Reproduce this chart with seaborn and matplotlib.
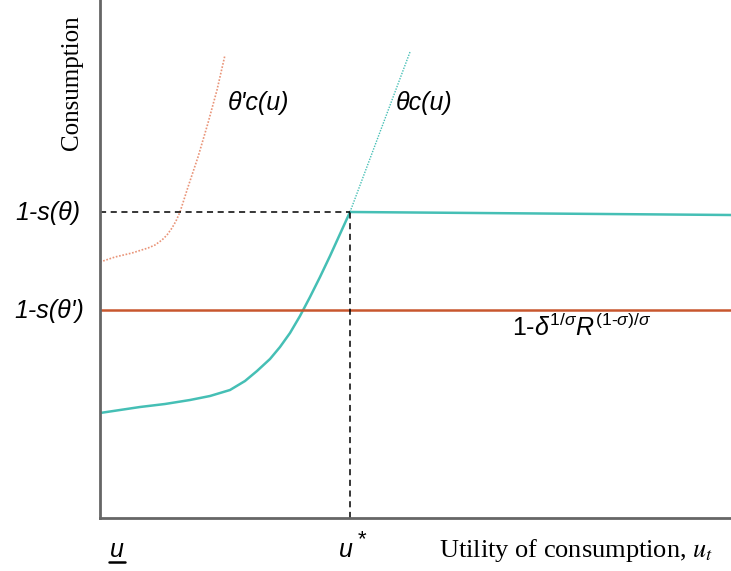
import numpy as np
import pandas as pd
import seaborn as sns
import matplotlib
matplotlib.use("Agg")
import matplotlib.pyplot as plt

sns.set_theme(style="white")
plt.rcParams['font.family'] = ['Liberation Sans', 'DejaVu Sans']
plt.rcParams['text.color'] = 'black'
plt.rcParams['mathtext.fontset'] = 'custom'
plt.rcParams['mathtext.rm'] = 'Liberation Sans'
plt.rcParams['mathtext.it'] = 'Liberation Sans:italic'
plt.rcParams['mathtext.bf'] = 'Liberation Sans:bold'

# ---- data (abstract units) ----
# theta c(u) curve (solid part up to u*)
teal_x = [0, 20, 40, 65, 90, 110, 130, 145, 157, 170, 180, 190, 200, 210, 220, 230, 240, 250]
teal_y = [105, 108, 111, 114, 118, 122, 128, 137, 147, 159, 171, 185, 202, 221, 241, 262, 284, 306]
# theta c(u) dotted continuation
teal_ext_x = [250, 265, 280, 295, 310]
teal_ext_y = [306, 346, 386, 426, 466]
# flat part after u*
flat_x = [250, 631]
flat_y = [306, 303]
# theta' c(u) dotted curve
orange_x = [0, 15, 32, 48, 55, 62, 67, 72, 76, 80, 88, 98, 108, 117, 125]
orange_y = [256, 261, 265, 270, 273, 278, 283, 290, 297, 306, 331, 361, 395, 428, 463]
# 1 - delta^(1/sigma) R^((1-sigma)/sigma)
hline_y = 208
ustar = 250
s_theta = 306

teal = "#45bfb5"
orange = "#c8572e"
orange_light = "#e99478"

fig = plt.figure(figsize=(7.31, 5.71), dpi=100)
ax = fig.add_axes([100/731, 53/571, 631/731, 518/571])
ax.set_xlim(0, 631)
ax.set_ylim(0, 518)

df_t = pd.DataFrame({"x": teal_x, "y": teal_y})
df_te = pd.DataFrame({"x": teal_ext_x, "y": teal_ext_y})
df_f = pd.DataFrame({"x": flat_x, "y": flat_y})
df_o = pd.DataFrame({"x": orange_x, "y": orange_y})

sns.lineplot(data=df_t, x="x", y="y", ax=ax, color=teal, lw=1.8, sort=False)
sns.lineplot(data=df_te, x="x", y="y", ax=ax, color=teal, lw=1.0, ls=(0, (1, 1)), sort=False)
sns.lineplot(data=df_f, x="x", y="y", ax=ax, color=teal, lw=1.8, sort=False)
sns.lineplot(data=df_o, x="x", y="y", ax=ax, color=orange_light, lw=1.2, ls=(0, (1, 1)), sort=False)
ax.axhline(hline_y, color=orange, lw=1.8)

ax.plot([0, ustar], [s_theta, s_theta], color="black", lw=1.1, ls=(0, (4, 3)))
ax.plot([ustar, ustar], [0, s_theta], color="black", lw=1.1, ls=(0, (4, 3)))

for s in ["top", "right"]:
    ax.spines[s].set_visible(False)
for s in ["left", "bottom"]:
    ax.spines[s].set_color("#666666")
    ax.spines[s].set_linewidth(2)
ax.set_xticks([])
ax.set_yticks([])
ax.set_xlabel("")
ax.set_ylabel("")

tk = dict(fontsize=18, style="italic", ha="center", va="center", color="black")
fig.text(48/731, 1 - 213/571, "1-s(θ)", **tk)
fig.text(49/731, 1 - 311/571, "1-s(θ')", **tk)
fig.text(259/731, 1 - 103/571, "θ'c(u)", **tk)
fig.text(424/731, 1 - 103/571, "θc(u)", **tk)
fig.text(512/731, 1 - 327/571, r"1-$\delta^{1/\sigma}R^{(1\text{-}\sigma)/\sigma}$",
         fontsize=18, ha="left", va="center", color="black")
fig.text(117/731, 1 - 550/571, "u", **tk)
fig.add_artist(plt.Line2D([109/731, 125/731], [1 - 562/571, 1 - 562/571],
                          color="black", lw=1.8))
fig.text(346/731, 1 - 550/571, "u", **tk)
fig.text(362/731, 1 - 540/571, "*", fontsize=16, ha="center", va="center", color="black")
fig.text(576/731, 1 - 550/571, r"Utility of consumption, $u_t$",
         fontsize=19, family="Liberation Serif", math_fontfamily="stix",
         ha="center", va="center", color="black")
fig.text(72/731, 1 - 83/571, "Consumption", fontsize=18, family="Liberation Serif",
         rotation=90, ha="center", va="center", color="black")

fig.savefig("out.png", dpi=100)
